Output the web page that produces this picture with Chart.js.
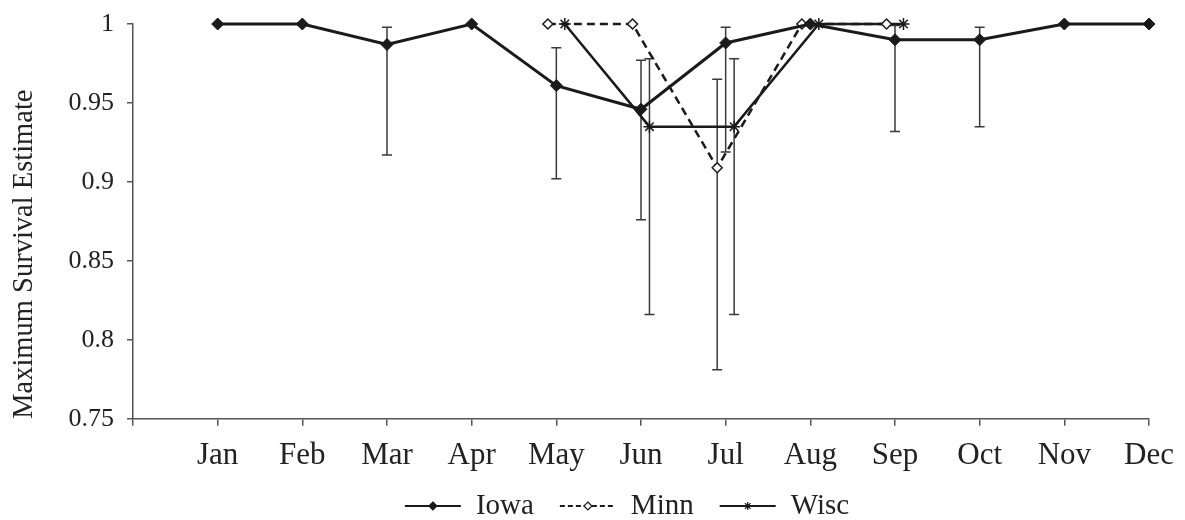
<!DOCTYPE html>
<html>
<head>
<meta charset="utf-8">
<script src="https://cdn.jsdelivr.net/npm/chart.js@4.4.0/dist/chart.umd.min.js"></script>
<style>
html, body { margin: 0; padding: 0; background: #fff; }
#wrap { width: 1185px; height: 520px; }
</style>
</head>
<body>
<div id="wrap"><canvas id="survivalChart" width="1185" height="520"></canvas></div>
<script>
// months on the x axis
const months = ['Jan','Feb','Mar','Apr','May','Jun','Jul','Aug','Sep','Oct','Nov','Dec'];
const yTicks = [0.75, 0.8, 0.85, 0.9, 0.95, 1];

// Iowa
const iowa     = [1, 1, 0.987, 1, 0.961, 0.946, 0.988, 1, 0.990, 0.990, 1, 1];
const iowaLow  = [null, null, 0.917, null, 0.902, 0.876, 0.919, null, 0.932, 0.935, null, null];
const iowaHigh = [null, null, 0.998, null, 0.985, 0.977, 0.998, null, 0.999, 0.998, null, null];

// Minn
const minn     = [null, null, null, null, 1, 1, 0.909, 1, 1, null, null, null];
const minnLow  = [null, null, null, null, null, null, 0.781, null, null, null, null, null];
const minnHigh = [null, null, null, null, null, null, 0.965, null, null, null, null, null];

// Wisc
const wisc     = [null, null, null, null, 1, 0.935, 0.935, 1, 1, null, null, null];
const wiscLow  = [null, null, null, null, null, 0.816, 0.816, null, null, null, null, null];
const wiscHigh = [null, null, null, null, null, 0.978, 0.978, null, null, null, null, null];

const serif = '"Liberation Serif", "Times New Roman", serif';
const ink = '#1a1a1a';

// small side offset so the three states don't sit on top of each other
function buildPoints(values, low, high, dodge) {
    return values.map((v, i) => ({ x: i + 1 + dodge, y: v, lo: low[i], hi: high[i] }));
}

const errorBars = {
    id: 'errorBars',
    beforeDatasetsDraw(chart) {
        const ctx = chart.ctx;
        const xs = chart.scales.x, ys = chart.scales.y;
        ctx.save();
        ctx.strokeStyle = '#3a3a3a';
        ctx.lineWidth = 1.5;
        chart.data.datasets.forEach(ds => {
            ds.data.forEach(p => {
                if (p.y == null || p.lo == null) return;
                const px = xs.getPixelForValue(p.x);
                const top = ys.getPixelForValue(p.hi);
                const bot = ys.getPixelForValue(p.lo);
                ctx.beginPath();
                ctx.moveTo(px, top); ctx.lineTo(px, bot);
                ctx.moveTo(px - 5, top); ctx.lineTo(px + 5, top);
                ctx.moveTo(px - 5, bot); ctx.lineTo(px + 5, bot);
                ctx.stroke();
            });
        });
        ctx.restore();
    }
};

function drawMarker(ctx, style, x, y, r, fill) {
    ctx.beginPath();
    if (style === 'star') {
        const d = r * Math.SQRT1_2;
        ctx.moveTo(x - r, y); ctx.lineTo(x + r, y);
        ctx.moveTo(x, y - r); ctx.lineTo(x, y + r);
        ctx.moveTo(x - d, y - d); ctx.lineTo(x + d, y + d);
        ctx.moveTo(x - d, y + d); ctx.lineTo(x + d, y - d);
        ctx.stroke();
        return;
    }
    ctx.moveTo(x, y - r); ctx.lineTo(x + r, y); ctx.lineTo(x, y + r); ctx.lineTo(x - r, y);
    ctx.closePath();
    ctx.fillStyle = fill;
    ctx.fill();
    ctx.stroke();
}

// legend with a line sample + marker, like the original
const lineLegend = {
    id: 'lineLegend',
    afterDraw(chart) {
        const ctx = chart.ctx;
        ctx.save();
        ctx.font = '29px ' + serif;
        const sample = 56, gap = 15, between = 26;
        const items = chart.data.datasets.map(ds => ({ ds: ds, w: ctx.measureText(ds.label).width }));
        const total = items.reduce((s, it) => s + sample + gap + it.w, 0) + between * (items.length - 1);
        let x = (chart.chartArea.left + chart.chartArea.right) / 2 - 14 - total / 2;
        const y = chart.height - 14;
        items.forEach(it => {
            const ds = it.ds;
            ctx.strokeStyle = ink;
            ctx.lineWidth = 2.2;
            ctx.setLineDash(ds.borderDash ? [5, 3] : []);
            ctx.beginPath();
            ctx.moveTo(x, y); ctx.lineTo(x + sample, y);
            ctx.stroke();
            ctx.setLineDash([]);
            ctx.lineWidth = 1.2;
            drawMarker(ctx, ds.pointStyle, x + sample / 2, y, 4, ds.pointBackgroundColor);
            ctx.fillStyle = '#222';
            ctx.textBaseline = 'middle';
            ctx.textAlign = 'left';
            ctx.fillText(ds.label, x + sample + gap, y);
            x += sample + gap + it.w + between;
        });
        ctx.restore();
    }
};

Chart.defaults.font.family = serif;
Chart.defaults.color = '#222';

const ctx = document.getElementById('survivalChart').getContext('2d');
const survivalChart = new Chart(ctx, {
    type: 'line',
    data: {
        datasets: [
            {
                label: 'Iowa',
                data: buildPoints(iowa, iowaLow, iowaHigh, 0),
                borderColor: ink,
                borderWidth: 3,
                pointStyle: 'rectRot',
                pointRadius: 6,
                pointBackgroundColor: ink,
                pointBorderColor: ink,
                pointBorderWidth: 1,
                tension: 0,
                clip: false
            },
            {
                label: 'Minn',
                data: buildPoints(minn, minnLow, minnHigh, -0.1),
                borderColor: ink,
                borderWidth: 2.5,
                borderDash: [8, 5],
                pointStyle: 'rectRot',
                pointRadius: 5,
                pointBackgroundColor: '#fff',
                pointBorderColor: ink,
                pointBorderWidth: 1.5,
                tension: 0,
                clip: false
            },
            {
                label: 'Wisc',
                data: buildPoints(wisc, wiscLow, wiscHigh, 0.1),
                borderColor: ink,
                borderWidth: 2.5,
                pointStyle: 'star',
                pointRadius: 6,
                pointBackgroundColor: ink,
                pointBorderColor: ink,
                pointBorderWidth: 1.5,
                tension: 0,
                clip: false
            }
        ]
    },
    options: {
        responsive: false,
        animation: false,
        devicePixelRatio: 1,
        layout: { autoPadding: false, padding: { top: 24, right: 36, bottom: 35, left: 0 } },
        plugins: {
            legend: { display: false },
            tooltip: { enabled: false }
        },
        scales: {
            x: {
                type: 'linear',
                min: 0,
                max: months.length,
                afterBuildTicks: s => { s.ticks = [0].concat(months.map((m, i) => i + 1)).map(v => ({ value: v })); },
                border: { display: true, color: '#555', width: 1.5 },
                grid: { drawOnChartArea: false, drawTicks: true, tickLength: 7, color: '#555', lineWidth: 1.5 },
                ticks: {
                    font: { size: 31 },
                    color: '#222',
                    padding: 11,
                    autoSkip: false,
                    maxRotation: 0,
                    callback: v => months[v - 1] || ''
                }
            },
            y: {
                type: 'linear',
                min: 0.75,
                max: 1,
                afterBuildTicks: s => { s.ticks = yTicks.map(v => ({ value: v })); },
                afterFit: s => { s.width = 133; s.paddingTop = 0; s.paddingBottom = 0; },
                border: { display: true, color: '#555', width: 1.5 },
                grid: { drawOnChartArea: false, drawTicks: true, tickLength: 6, color: '#555', lineWidth: 1.5 },
                ticks: {
                    font: { size: 26 },
                    color: '#222',
                    padding: 13,
                    callback: v => String(Number(v.toFixed(2)))
                },
                title: {
                    display: true,
                    text: 'Maximum Survival Estimate',
                    font: { size: 28.5 },
                    color: '#222',
                    align: 'start',
                    padding: { top: 7, bottom: 0 }
                }
            }
        }
    },
    plugins: [errorBars, lineLegend]
});
</script>
</body>
</html>
